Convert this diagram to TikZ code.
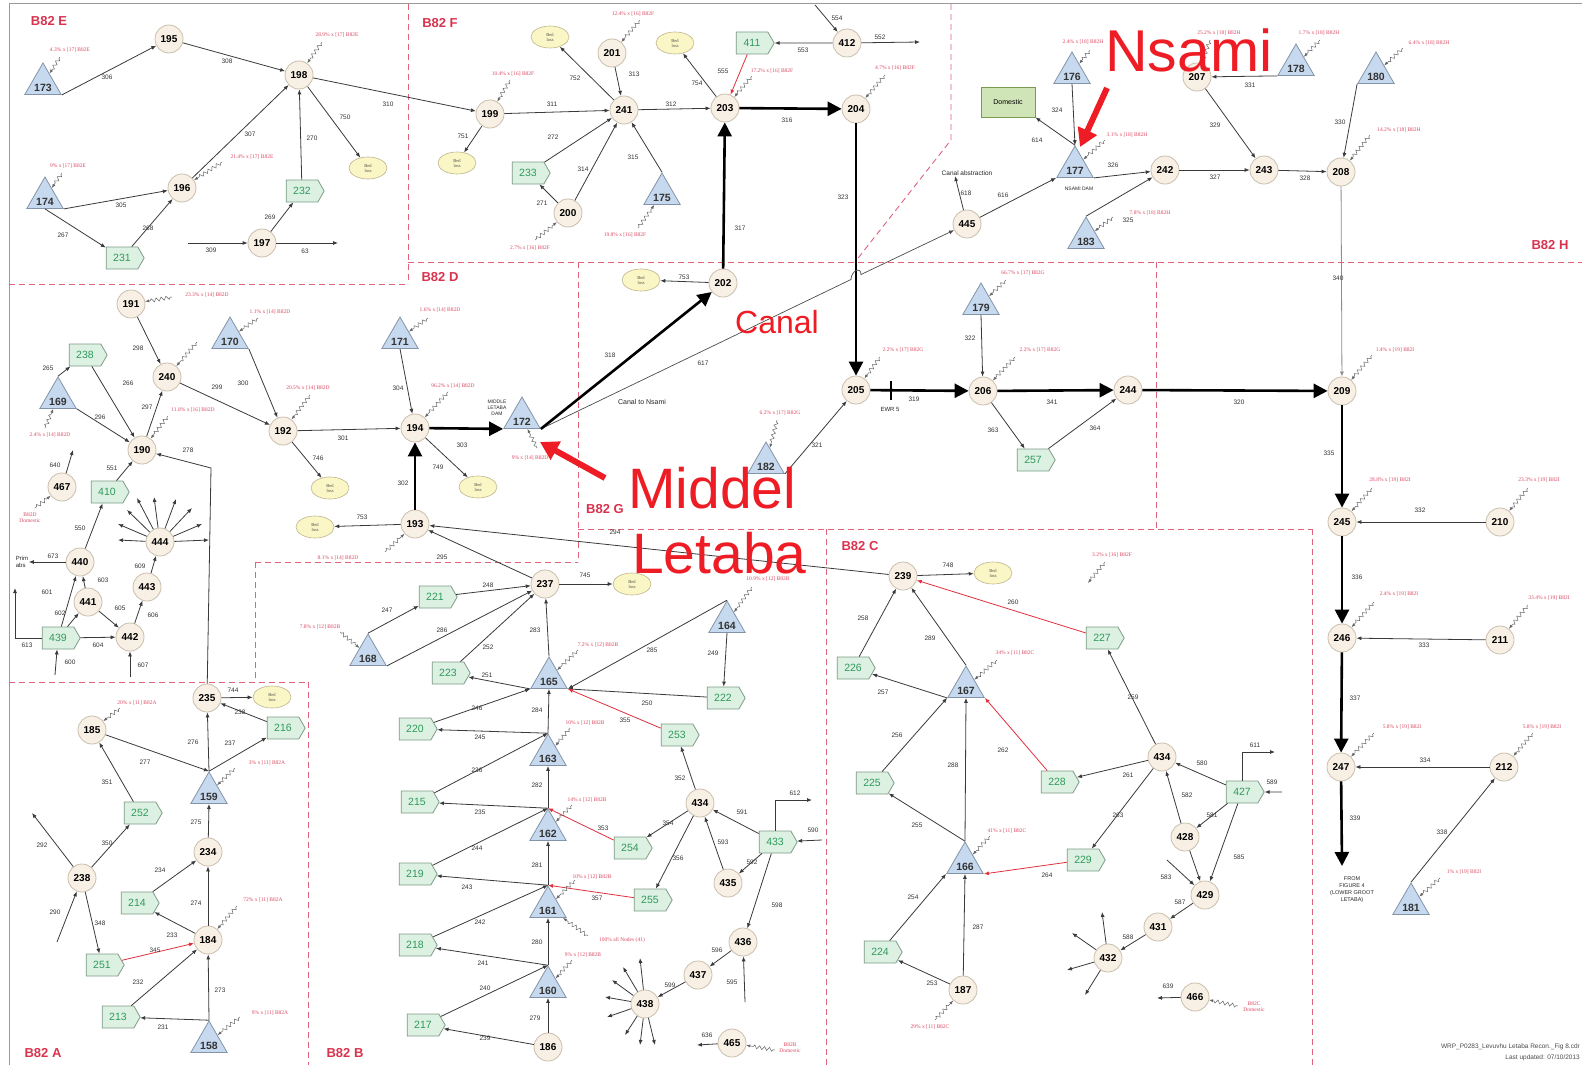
\documentclass[tikz,border=0pt]{standalone}
\usepackage{fontspec}
\setmainfont{Liberation Sans}
\newfontfamily\serifpl{Liberation Serif}
\usetikzlibrary{arrows.meta,shapes.geometric,shapes.symbols,decorations.pathmorphing}
\definecolor{cfill}{HTML}{F8F0E4}
\definecolor{cline}{HTML}{C9BFAE}
\definecolor{gfill}{HTML}{DDF1E3}
\definecolor{gline}{HTML}{7D9A86}
\definecolor{gtext}{HTML}{2F9A5C}
\definecolor{tfill}{HTML}{C6D9EF}
\definecolor{tline}{HTML}{8394A8}
\definecolor{bfill}{HTML}{FBF6C6}
\definecolor{bline}{HTML}{BDB68E}
\definecolor{rgn}{HTML}{E0637B}
\definecolor{rgntxt}{HTML}{D9344F}
\definecolor{pct}{HTML}{DB4A63}
\definecolor{ecol}{HTML}{3A3A3A}
\definecolor{bigred}{HTML}{EE1C24}
\definecolor{redline}{HTML}{E0303C}
\definecolor{domfill}{HTML}{CFE5B8}
\definecolor{domline}{HTML}{7A9A50}
\newcommand\myc[3]{\node[cn] (n#1) at (#2,#3) {#1};}
\newcommand\myg[3]{\node[gn] (g#1) at (#2,#3) {#1};}
\newcommand\myt[3]{\node[tn] (t#1) at (#2,#3) {}; \node[tnum] (t#1n) at ([yshift=7pt]t#1.south) {#1};}
\newcommand\myb[3]{\node[bl] (#1) at (#2,#3) {Bed\\loss};}
\newcommand\myl[3]{\node[el] (l#3x#1) at (#1,#2) {#3};}
\newcommand\myp[3]{\node[pl] (p#1x#2) at (#1,#2) {#3};}
\newcommand\mys[3]{\coordinate (q#1x#2) at (#1,#2); \draw[squig] (q#1x#2) -- (#3);}
\begin{document}
\begin{tikzpicture}[x=1pt,y=-1pt,
 cn/.style={circle, draw=cline, fill=cfill, line width=0.8pt, minimum size=28pt, inner sep=0pt, font=\fontsize{10}{10}\selectfont\bfseries},
 gn/.style={signal, signal to=east, signal pointer angle=120, draw=gline, fill=gfill, line width=0.8pt, minimum width=38pt, minimum height=22pt, inner sep=1pt, text=gtext, font=\fontsize{10.5}{10.5}\selectfont},
 tn/.style={regular polygon, regular polygon sides=3, draw=tline, fill=tfill, line width=0.8pt, minimum size=42pt, inner sep=0pt},
 tnum/.style={inner sep=0pt, font=\fontsize{10.5}{10.5}\selectfont\bfseries, text=black!80},
 bl/.style={ellipse, draw=bline, fill=bfill, line width=0.6pt, minimum width=38pt, minimum height=22pt, inner sep=0pt, align=center, font=\serifpl\fontsize{4.5}{5}\selectfont, text=black!70},
 el/.style={inner sep=0.5pt, font=\fontsize{6.5}{6.5}\selectfont, text=black!80},
 pl/.style={inner sep=0pt, align=center, font=\serifpl\fontsize{5.5}{6}\selectfont, text=pct},
 ed/.style={draw=ecol, line width=0.8pt, -{Latex[length=5pt,width=4pt]}},
 thk/.style={draw=black, line width=2.6pt, -{Triangle[length=14pt,width=14pt]}},
 rdl/.style={draw=redline, line width=0.8pt, -{Latex[length=5pt,width=4pt]}},
 squig/.style={draw=black!60, line width=0.5pt, decorate, decoration={zigzag, segment length=5pt, amplitude=1.8pt, pre length=2pt, post length=5pt}, -{Latex[length=4pt,width=3pt]}},
 rg/.style={draw=rgn, line width=0.9pt, dash pattern=on 6pt off 4pt},
 rl/.style={text=rgntxt, font=\fontsize{13}{13}\selectfont\bfseries, inner sep=0pt},
 bigtxt/.style={text=bigred, inner sep=0pt, anchor=base west},
 bigarrow/.style={draw=bigred, line width=6pt, -{Triangle[length=18pt,width=20pt]}},
 small/.style={inner sep=0.5pt, text=black!85, align=center},
]
\useasboundingbox (0,0) rectangle (1582,1065);
\fill[white] (0,0) rectangle (1582,1065);
\draw[draw=black!40, line width=1pt] (9,1065) -- (9,4) -- (1582,4);

% region boundaries
\draw[rg] (9,284) -- (408,284);
\draw[rg] (408,4) -- (408,284);
\draw[rg] (408,262) -- (1582,262);
\draw[rg] (578,262) -- (578,562);
\draw[rg] (255,562) -- (578,562);
\draw[rg] (255,562) -- (255,682);
\draw[rg] (9,682) -- (308,682);
\draw[rg] (308,682) -- (308,1065);
\draw[rg] (578,529) -- (1312,529);
\draw[rg] (826,529) -- (826,1065);
\draw[rg] (1312,529) -- (1312,1065);
\draw[rg] (1156,262) -- (1156,529);
\draw[rg] (951,4) -- (951,140) -- (855,262);

\node[rl] (rE) at (49,21) {B82 E};
\node[rl] (rF) at (440,23) {B82 F};
\node[rl] (rD) at (440,277) {B82 D};
\node[rl] (rG) at (605,509) {B82 G};
\node[rl] (rC) at (860,546) {B82 C};
\node[rl] (rH) at (1550,245) {B82 H};
\node[rl] (rA) at (43,1053) {B82 A};
\node[rl] (rB) at (345,1053) {B82 B};

% circles
\myc{195}{169}{39} \myc{198}{299}{75} \myc{196}{182}{188} \myc{197}{262}{243}
\myc{199}{490}{114} \myc{241}{624}{110} \myc{201}{612}{53} \myc{203}{725}{108}
\myc{200}{568}{213} \myc{202}{723}{283} \myc{412}{847}{43} \myc{204}{856}{109}
\myc{445}{967}{224} \myc{242}{1165}{170} \myc{207}{1197}{77} \myc{243}{1264}{170}
\myc{208}{1341}{172} \myc{191}{131}{304} \myc{240}{167}{377} \myc{190}{142}{450}
\myc{192}{283}{431} \myc{467}{62}{487} \myc{444}{160}{542} \myc{440}{80}{562}
\myc{441}{88}{602} \myc{443}{147}{587} \myc{442}{130}{637} \myc{235}{207}{698}
\myc{194}{415}{428} \myc{193}{415}{524} \myc{237}{545}{584} \myc{205}{856}{390}
\myc{206}{983}{391} \myc{244}{1128}{390} \myc{239}{903}{576} \myc{209}{1342}{391}
\myc{245}{1342}{522} \myc{210}{1500}{522} \myc{246}{1342}{638} \myc{211}{1500}{640}
\myc{247}{1341}{767} \myc{212}{1504}{767} \myc{185}{92}{730} \myc{234}{208}{852}
\myc{238}{82}{878} \myc{184}{208}{940}
\node[cn] (b434) at (700,803) {434};
\myc{435}{728}{883} \myc{436}{743}{942} \myc{437}{698}{975} \myc{438}{645}{1004}
\myc{186}{548}{1047} \myc{465}{732}{1043}
\node[cn] (c434) at (1162,757) {434};
\myc{428}{1185}{837} \myc{429}{1205}{895} \myc{431}{1158}{927} \myc{432}{1108}{958}
\myc{466}{1195}{997} \myc{187}{963}{990}

% green
\myg{232}{302}{191} \myg{231}{122}{258} \myg{233}{528}{173} \myg{411}{752}{43}
\myg{238}{85}{355} \myg{410}{107}{492} \myg{439}{58}{638} \myg{216}{283}{728}
\myg{252}{140}{813} \myg{214}{137}{903} \myg{251}{102}{965} \myg{213}{118}{1017}
\myg{221}{435}{597} \myg{223}{448}{673} \myg{222}{723}{698} \myg{220}{415}{729}
\myg{215}{417}{802} \myg{219}{415}{874} \myg{218}{415}{945} \myg{217}{423}{1025}
\myg{253}{677}{735} \myg{254}{630}{848} \myg{255}{650}{900} \myg{433}{775}{842}
\myg{257}{1033}{460} \myg{227}{1102}{638} \myg{226}{853}{668} \myg{225}{872}{783}
\myg{228}{1057}{782} \myg{229}{1083}{860} \myg{224}{880}{952} \myg{427}{1242}{792}

% triangles
\myt{173}{43}{84} \myt{174}{45}{198} \myt{175}{662}{194} \myt{176}{1072}{73}
\myt{177}{1075}{167} \myt{178}{1296}{65} \myt{180}{1376}{73} \myt{183}{1086}{238}
\myt{179}{981}{304} \myt{169}{58}{398} \myt{170}{230}{338} \myt{171}{400}{338}
\myt{172}{522}{418} \myt{182}{766}{463} \myt{168}{368}{655} \myt{164}{727}{622}
\myt{165}{549}{678} \myt{163}{548}{755} \myt{162}{548}{830} \myt{161}{548}{907}
\myt{160}{548}{987} \myt{159}{209}{793} \myt{158}{209}{1042} \myt{167}{966}{687}
\myt{166}{965}{863} \myt{181}{1411}{904}

% bed loss
\myb{bl1}{368}{168} \myb{bl2}{550}{37} \myb{bl3}{457}{163} \myb{bl4}{675}{43}
\myb{bl5}{641}{280} \myb{bl6}{330}{488} \myb{bl7}{315}{527} \myb{bl8}{478}{487}
\myb{bl9}{632}{584} \myb{bl10}{272}{697} \myb{bl11}{993}{573}

% other texts
\node[draw=domline, fill=domfill, line width=0.8pt, minimum width=54pt, minimum height=30pt, font=\fontsize{7}{7}\selectfont] (dom) at (1008,102) {Domestic};
\node[small, font=\fontsize{6.5}{6.5}\selectfont] (canalabs) at (967,173) {Canal abstraction};
\node[small, font=\fontsize{5}{5}\selectfont] (nsamidam) at (1079,189) {NSAMI DAM};
\node[small, font=\fontsize{5}{6}\selectfont] (mldam) at (497,408) {MIDDLE\\LETABA\\DAM};
\node[small, font=\fontsize{7}{7}\selectfont] (canaltxt) at (642,402) {Canal to Nsami};
\node[small, align=left, font=\fontsize{6}{7}\selectfont] (primabs) at (22,562) {Prim\\abs};
\node[small, font=\fontsize{6}{6}\selectfont] (ewr) at (890,409) {EWR 5};
\node[small, font=\fontsize{5.5}{7}\selectfont] (fromfig) at (1352,890) {FROM\\FIGURE 4\\(LOWER GROOT\\LETABA)};

% free coordinates
\coordinate (k309) at (188,243); \coordinate (k63) at (338,243);
\coordinate (k554) at (815,5); \coordinate (k552) at (920,42);
\coordinate (k640) at (73,450); \coordinate (k613a) at (15,638); \coordinate (k613b) at (15,588);
\coordinate (k600) at (55,675); \coordinate (k607) at (130,677); \coordinate (k278) at (211,468);
\coordinate (k292) at (32,813); \coordinate (k290) at (57,942);
\coordinate (k595) at (745,1002); \coordinate (k636) at (697,1045);
\coordinate (k612) at (812,800); \coordinate (k590) at (822,840);
\coordinate (k639) at (1157,998); \coordinate (k583) at (1167,860);
\coordinate (k611) at (1275,752); \coordinate (k589) at (1282,792);
\coordinate (k339) at (1342,866);
\coordinate (hopA) at (851,279.5); \coordinate (hopB) at (861,274.5);

% E
\draw[ed] (t173.corner 3) -- (n195); \myl{107}{77}{306}
\draw[ed] (n195) -- (n198); \myl{227}{61}{308}
\draw[ed] (n198) -- (n199); \myl{388}{104}{310}
\draw[ed] (n198) -- (bl1); \myl{345}{117}{750}
\draw[ed] (n196) -- (n198); \myl{250}{134}{307}
\draw[ed] (g232) -- (n198); \myl{312}{138}{270}
\draw[ed] (t174.corner 3) -- (n196); \myl{121}{205}{305}
\draw[ed] (t174.south) -- (g231); \myl{63}{235}{267}
\draw[ed] (g231) -- (n196); \myl{148}{228}{268}
\draw[ed] (k309) -- (n197); \myl{211}{250}{309}
\draw[ed] (n197) -- (k63); \myl{305}{251}{63}
\draw[ed] (n197) -- (g232); \myl{270}{217}{269}

% F
\draw[ed] (n199) -- (n241); \myl{552}{104}{311}
\draw[ed] (n199) -- (bl3); \myl{463}{136}{751}
\draw[ed] (n241) -- (bl2); \myl{575}{78}{752}
\draw[ed] (n201) -- (n241); \myl{634}{74}{313}
\draw[ed] (n241) -- (n203); \myl{671}{104}{312}
\draw[ed] (n203) -- (bl4); \myl{697}{83}{754}
\draw[rdl] (g411) -- (n203); \myl{723}{71}{555}
\draw[ed] (g233) -- (n241); \myl{553}{137}{272}
\draw[ed] (n200) -- (g233); \myl{542}{203}{271}
\draw[ed] (n200) -- (n241); \myl{583}{169}{314}
\draw[ed] (t175.corner 1) -- (n241); \myl{633}{157}{315}
\draw[thk] (n202) -- (n203); \myl{740}{228}{317}
\draw[ed] (n202) -- (bl5); \myl{684}{277}{753}
\draw[thk] (n203) -- (n204); \myl{787}{120}{316}
\draw[ed] (k554) -- (n412); \myl{837}{18}{554}
\draw[ed] (n412) -- (g411); \myl{803}{50}{553}
\draw[ed] (n412) -- (k552); \myl{880}{37}{552}

% H
\draw[thk] (n204) -- (n205); \myl{843}{197}{323}
\draw[ed] (t176.south) -- (t177.corner 1); \myl{1057}{110}{324}
\draw[ed] (t177.corner 1) -- (dom.south east); \myl{1037}{140}{614}
\draw[ed] (t177.corner 3) -- (n242); \myl{1113}{165}{326}
\draw[ed] (n445) -- ([xshift=14pt]canalabs.south west); \myl{966}{193}{618}
\draw[ed] (n445) -- (t177.corner 2); \myl{1003}{195}{616}
\draw[ed] (t183.corner 1) -- (n242); \myl{1128}{220}{325}
\draw[ed] (t178.corner 2) -- (n207); \myl{1250}{85}{331}
\draw[ed] (n207) -- (n243); \myl{1215}{125}{329}
\draw[ed] (n242) -- (n243); \myl{1215}{177}{327}
\draw[ed] (n243) -- (n208); \myl{1305}{178}{328}
\draw[ed] (t180.corner 2) -- (n208); \myl{1340}{122}{330}
\draw[ed, draw=black!45] (n208) -- (n209); \myl{1338}{278}{340}
\draw[draw=black!70, line width=0.7pt, -{Latex[length=5pt,width=4pt]}] (t172.corner 3) -- (hopA) .. controls (851,271) and (861,266) .. (hopB) -- (n445); \myl{703}{363}{617}
\draw[thk] (t172.corner 3) -- (n202); \myl{610}{355}{318}

% D
\draw[ed] (n191) -- (n240); \myl{138}{348}{298}
\draw[ed] (t169.corner 1) -- (g238); \myl{48}{368}{265}
\draw[ed] (g238) -- (n190); \myl{128}{383}{266}
\draw[ed] (t169.corner 3) -- (n190); \myl{100}{417}{296}
\draw[ed] (n190) -- (n240); \myl{147}{407}{297}
\draw[ed] (n240) -- (n192); \myl{217}{387}{299}
\draw[ed] (t170.corner 3) -- (n192); \myl{243}{383}{300}
\draw[ed] (n192) -- (n194); \myl{343}{438}{301}
\draw[ed] (n192) -- (bl6); \myl{318}{458}{746}
\draw[ed] (n193) -- (bl7); \myl{362}{517}{753}
\draw[ed] (n235) -- (k278) -- (n190); \myl{188}{450}{278}
\draw[ed] (g410) -- (n190); \myl{112}{468}{551}
\draw[ed] (n467) -- (k640); \myl{55}{465}{640}
\draw[ed] (n440) -- (g410); \myl{80}{528}{550}
\draw[ed] (n440) -- (primabs); \myl{53}{556}{673}
\draw[ed] (g439) -- (n440); \myl{47}{592}{601}
\draw[ed] (n441) -- (n440); \myl{103}{580}{603}
\draw[ed] (g439) -- (n441); \myl{60}{613}{602}
\draw[ed] (n441) -- (n442); \myl{120}{608}{605}
\draw[ed] (g439) -- (n442); \myl{98}{645}{604}
\draw[ed] (n442) -- (n443); \myl{153}{615}{606}
\draw[ed] (n443) -- (n444); \myl{140}{566}{609}
\draw[ed] (g439.west) -- (k613a) -- (k613b); \myl{27}{645}{613}
\draw[ed] (k600) -- (g439); \myl{70}{662}{600}
\draw[ed] (k607) -- (n442); \myl{143}{665}{607}
\draw[ed] (n235) -- (bl10); \myl{233}{690}{744}
\draw[ed] (t171.south) -- (n194); \myl{398}{388}{304}
\draw[thk] (n194) -- (t172.corner 2); \myl{462}{445}{303}
\draw[thk] (n193) -- (n194); \myl{403}{483}{302}
\draw[ed] (n194) -- (bl8); \myl{438}{467}{749}
\draw[ed] (n237) -- (n193); \myl{442}{557}{295}
\draw[ed] (n239) -- (n193); \myl{615}{532}{294}
\draw[ed] (n237) -- (bl9); \myl{585}{575}{745}
\foreach \dx/\dy [count=\i] in {-33/-32,-23/-44,-6/-45,16/-43,32/-34,42/-18,49/-2,-42/-2,-42/-18}
  {\coordinate (f444-\i) at ([shift={(\dx,\dy)}]n444.center); \draw[ed] (n444) -- (f444-\i);}

% A
\draw[ed] (g216) -- (n235); \myl{240}{712}{238}
\draw[ed] (t159.corner 1) -- (n235); \myl{193}{742}{276}
\draw[ed] (t159.corner 1) -- (g216); \myl{230}{743}{237}
\draw[ed] (n185) -- (t159.corner 1); \myl{145}{762}{277}
\draw[ed] (g252) -- (n185); \myl{107}{782}{351}
\draw[ed] (n238) -- (g252); \myl{107}{843}{350}
\draw[ed] (n238) -- (k292); \myl{42}{845}{292}
\draw[ed] (k290) -- (n238); \myl{55}{912}{290}
\draw[ed] (n238) -- (g251); \myl{100}{923}{348}
\draw[rdl] (g251) -- (n184); \myl{155}{950}{345}
\draw[ed] (g213) -- (n184); \myl{138}{982}{232}
\draw[ed] (n184) -- (g214); \myl{172}{935}{233}
\draw[ed] (g214) -- (n234); \myl{160}{870}{234}
\draw[ed] (n184) -- (n234); \myl{196}{903}{274}
\draw[ed] (n234) -- (t159.south); \myl{196}{822}{275}
\draw[ed] (t158.corner 1) -- (n184); \myl{220}{990}{273}
\draw[ed] (t158.corner 1) -- (g213); \myl{163}{1027}{231}

% B
\draw[ed] (g221) -- (n237); \myl{488}{585}{248}
\draw[ed] (t168.corner 1) -- (g221); \myl{387}{610}{247}
\draw[ed] (t168.corner 3) -- (n237); \myl{442}{630}{286}
\draw[ed] (g223) -- (n237); \myl{488}{647}{252}
\draw[ed] (t165.corner 1) -- (n237); \myl{535}{630}{283}
\draw[ed] (t165.corner 2) -- (g223); \myl{487}{675}{251}
\draw[ed] (t164.corner 1) -- (t165.corner 3); \myl{652}{650}{285}
\draw[ed] (g222) -- (t165.corner 3); \myl{647}{703}{250}
\draw[ed] (t164.south) -- (g222); \myl{713}{653}{249}
\draw[rdl] (g253) -- (t165.corner 3); \myl{625}{720}{355}
\draw[ed] (t163.corner 1) -- (t165.south); \myl{537}{710}{284}
\draw[ed] (g220) -- (t165.corner 2); \myl{477}{708}{246}
\draw[ed] (t163.corner 1) -- (g220); \myl{480}{737}{245}
\draw[ed] (g215) -- (t163.corner 1); \myl{477}{770}{236}
\draw[ed] (t162.corner 1) -- (g215); \myl{480}{812}{235}
\draw[ed] (t162.corner 1) -- (t163.south); \myl{537}{785}{282}
\draw[ed] (g219) -- (t162.corner 1); \myl{477}{848}{244}
\draw[ed] (t161.corner 1) -- (g219); \myl{467}{887}{243}
\draw[ed] (t161.corner 1) -- (t162.south); \myl{537}{865}{281}
\draw[rdl] (g254) -- (t162.corner 1); \myl{603}{828}{353}
\draw[rdl] (g255) -- (t161.corner 1); \myl{597}{898}{357}
\draw[ed] (g218) -- (t161.corner 1); \myl{480}{922}{242}
\draw[ed] (t160.corner 1) -- (g218); \myl{483}{963}{241}
\draw[ed] (t160.corner 1) -- (t161.south); \myl{537}{942}{280}
\draw[ed] (g217) -- (t160.corner 1); \myl{485}{988}{240}
\draw[ed] (n186) -- (g217); \myl{485}{1038}{239}
\draw[ed] (n186) -- (t160.south); \myl{535}{1018}{279}
\draw[ed] (b434) -- (g253); \myl{680}{778}{352}
\draw[ed] (b434) -- (g254); \myl{668}{823}{354}
\draw[ed] (b434) -- (g255); \myl{678}{858}{356}
\draw[ed] (g433) -- (b434); \myl{742}{812}{591}
\draw[ed] (n435) -- (b434); \myl{723}{842}{593}
\draw[ed] (g433) -- (n435); \myl{752}{862}{592}
\draw[ed] (g433) -- (n436); \myl{777}{905}{598}
\draw[ed] (n436) -- (n437); \myl{717}{950}{596}
\draw[ed] (k595) -- (n436); \myl{732}{982}{595}
\draw[ed] (n437) -- (n438); \myl{670}{985}{599}
\draw[ed] (n465) -- (k636); \myl{707}{1035}{636}
\draw[ed] (g433.north) |- (k612); \myl{795}{793}{612}
\draw[ed] (k590) -- (g433); \myl{813}{830}{590}
\foreach \dx/\dy [count=\i] in {-5/-46,-22/-37,-33/-24,-40/-7,-38/13,-20/31,-5/41,10/41}
  {\coordinate (f438-\i) at ([shift={(\dx,\dy)}]n438.center); \draw[ed] (n438) -- (f438-\i);}

% G
\draw[thk] (n205) -- (n206); \myl{914}{399}{319}
\draw[line width=1.4pt] (891,381) -- (891,400);
\draw[thk] (n206) -- (n244); \myl{1052}{402}{341}
\draw[thk] (n244) -- (n209); \myl{1239}{402}{320}
\draw[ed] (n206) -- (g257); \myl{993}{430}{363}
\draw[ed] (g257) -- (n244); \myl{1095}{428}{364}
\draw[ed] (t182.corner 3) -- (n205); \myl{817}{445}{321}
\draw[ed] (t179.south) -- (n206); \myl{970}{338}{322}

% C
\draw[ed] (n239) -- (bl11); \myl{948}{565}{748}
\draw[rdl] (g227) -- (n239); \myl{1013}{602}{260}
\draw[ed] (g226) -- (n239); \myl{863}{618}{258}
\draw[ed] (t167.corner 1) -- (n239); \myl{930}{638}{289}
\draw[ed] (t167.corner 2) -- (g226); \myl{883}{692}{257}
\draw[ed] (c434) -- (g227); \myl{1133}{697}{259}
\draw[ed] (g225) -- (t167.corner 2); \myl{897}{735}{256}
\draw[ed] (t166.corner 1) -- (t167.south); \myl{953}{765}{288}
\draw[rdl] (g228) -- (t167.corner 3); \myl{1003}{750}{262}
\draw[ed] (c434) -- (g228); \myl{1128}{775}{261}
\draw[ed] (t166.corner 1) -- (g225); \myl{917}{825}{255}
\draw[ed] (c434) -- (g229); \myl{1118}{815}{263}
\draw[rdl] (g229) -- (t166.corner 3); \myl{1047}{875}{264}
\draw[ed] (g224) -- (t166.corner 2); \myl{913}{897}{254}
\draw[ed] (n187) -- (t166.south); \myl{978}{927}{287}
\draw[ed] (n187) -- (g224); \myl{932}{983}{253}
\draw[ed] (n431) -- (n432); \myl{1128}{937}{588}
\draw[ed] (n429) -- (n431); \myl{1180}{902}{587}
\draw[ed] (n466) -- (k639); \myl{1168}{986}{639}
\draw[ed] (k583) -- (n429); \myl{1166}{877}{583}
\draw[ed] (g427) -- (c434); \myl{1202}{763}{580}
\draw[ed] (g427) -- (n428); \myl{1212}{815}{581}
\draw[ed] (n428) -- (c434); \myl{1187}{795}{582}
\draw[ed] (g427) -- (n429); \myl{1239}{857}{585}
\draw[ed] (n428) -- (n429);
\draw[ed] (g427.north) |- (k611); \myl{1255}{745}{611}
\draw[ed] (k589) -- (g427); \myl{1272}{782}{589}
\foreach \dx/\dy [count=\i] in {-6/-46,-36/-25,-41/12,-23/37}
  {\coordinate (f432-\i) at ([shift={(\dx,\dy)}]n432.center); \draw[ed] (n432) -- (f432-\i);}

% I
\draw[thk] (n209) -- (n245); \myl{1329}{453}{335}
\draw[ed] (n210) -- (n245); \myl{1420}{510}{332}
\draw[thk] (n245) -- (n246); \myl{1357}{577}{336}
\draw[ed] (n211) -- (n246); \myl{1424}{645}{333}
\draw[thk] (n246) -- (n247); \myl{1355}{698}{337}
\draw[ed] (n212) -- (n247); \myl{1425}{760}{334}
\draw[thk] (n247) -- (k339); \myl{1355}{818}{339}
\draw[ed] (t181.corner 1) -- (n212); \myl{1442}{832}{338}

% percentage labels and squiggles
\myp{70}{50}{4.3\% x [17] B82E} \mys{60}{57}{t173}
\myp{337}{35}{28.9\% x [17] B82E} \mys{322}{42}{n198}
\myp{68}{166}{9\% x [17] B82E} \mys{62}{173}{t174}
\myp{252}{157}{21.4\% x [17] B82E} \mys{222}{162}{n196}
\myp{633}{14}{12.4\% x [16] B82F} \mys{640}{20}{n201}
\myp{513}{74}{10.4\% x [16] B82F} \mys{510}{80}{n199}
\myp{772}{71}{17.2\% x [16] B82F} \mys{752}{76}{n203}
\myp{530}{248}{2.7\% x [16] B82F} \mys{535}{240}{n200}
\myp{625}{235}{19.8\% x [16] B82F} \mys{638}{228}{t175}
\myp{895}{68}{4.7\% x [16] B82F} \mys{885}{75}{n204}
\myp{1083}{42}{2.4\% x [18] B82H} \mys{1090}{50}{t176}
\myp{1127}{135}{3.1\% x [18] B82H} \mys{1105}{140}{t177}
\myp{1150}{213}{7.8\% x [18] B82H} \mys{1113}{217}{t183}
\myp{1219}{33}{25.2\% x [18] B82H} \mys{1210}{40}{n207}
\myp{1319}{33}{1.7\% x [18] B82H} \mys{1320}{40}{t178}
\myp{1429}{43}{6.4\% x [18] B82H} \mys{1403}{48}{t180}
\myp{1399}{130}{14.2\% x [18] B82H} \mys{1370}{135}{n208}
\myp{1395}{350}{1.4\% x [19] B82I} \mys{1372}{355}{n209}
\myp{1023}{273}{66.7\% x [17] B82G} \mys{1006}{280}{t179}
\myp{903}{350}{2.2\% x [17] B82G} \mys{880}{357}{n205}
\myp{1040}{350}{2.2\% x [17] B82G} \mys{1015}{357}{n206}
\myp{780}{413}{6.2\% x [17] B82G} \mys{777}{420}{t182}
\myp{207}{295}{23.3\% x [14] B82D} \mys{172}{297}{n191}
\myp{270}{312}{1.1\% x [14] B82D} \mys{258}{318}{t170}
\myp{440}{310}{1.6\% x [14] B82D} \mys{428}{318}{t171}
\mys{197}{342}{n240}
\myp{50}{435}{2.4\% x [14] B82D} \mys{45}{428}{t169}
\myp{193}{410}{11.8\% x [16] B82D} \mys{168}{416}{n190}
\myp{308}{388}{20.5\% x [14] B82D} \mys{310}{395}{n192}
\myp{453}{386}{96.2\% x [14] B82D} \mys{448}{392}{n194}
\myp{530}{458}{9\% x [14] B82D} \mys{537}{448}{t172}
\myp{338}{558}{8.1\% x [14] B82D} \mys{385}{552}{n193}
\myp{30}{518}{B82D\\Domestic} \mys{35}{508}{n467}
\myp{137}{703}{20\% x [11] B82A} \mys{120}{708}{n185}
\myp{267}{763}{3\% x [11] B82A} \mys{235}{768}{t159}
\myp{263}{900}{72\% x [11] B82A} \mys{237}{906}{n184}
\myp{270}{1013}{9\% x [11] B82A} \mys{240}{1017}{t158}
\myp{320}{627}{7.8\% x [12] B82B} \mys{340}{632}{t168}
\myp{598}{645}{7.2\% x [12] B82B} \mys{578}{650}{t165}
\myp{768}{579}{10.9\% x [12] B82B} \mys{752}{587}{t164}
\myp{585}{723}{10\% x [12] B82B} \mys{570}{728}{t163}
\myp{587}{800}{14\% x [12] B82B} \mys{572}{805}{t162}
\myp{592}{877}{10\% x [12] B82B} \mys{575}{880}{t161}
\myp{622}{940}{100\% all Nodes (41)} \mys{588}{936}{t161}
\myp{583}{955}{9\% x [12] B82B} \mys{572}{960}{t160}
\myp{790}{1048}{B82B\\Domestic} \mys{775}{1050}{n465}
\myp{1112}{555}{3.2\% x [16] B82F} \coordinate (q1105x562) at (1105,562); \coordinate (q3end) at (1088,583); \draw[squig] (q1105x562) -- (q3end);
\myp{1015}{653}{34\% x [11] B82C} \mys{997}{660}{t167}
\myp{1007}{831}{41\% x [11] B82C} \mys{990}{836}{t166}
\myp{930}{1027}{29\% x [11] B82C} \mys{935}{1020}{n187}
\myp{1254}{1007}{B82C\\Domestic} \mys{1238}{1006}{n466}
\myp{1390}{480}{28.8\% x [19] B82I} \mys{1372}{488}{n245}
\myp{1539}{480}{23.3\% x [19] B82I} \mys{1528}{488}{n210}
\myp{1399}{594}{2.4\% x [19] B82I} \mys{1374}{602}{n246}
\myp{1549}{598}{33.4\% x [19] B82I} \mys{1528}{605}{n211}
\myp{1402}{727}{5.8\% x [19] B82I} \mys{1374}{733}{n247}
\myp{1542}{727}{5.8\% x [19] B82I} \mys{1533}{733}{n212}
\myp{1464}{872}{1\% x [19] B82I} \mys{1440}{878}{t181}

% footer
\node[anchor=east, inner sep=0pt, text=black!70, font=\fontsize{6.5}{6.5}\selectfont] (foot1) at (1580,1047) {WRP\_P0283\_Levuvhu Letaba Recon.\_Fig 8.cdr};
\node[anchor=east, inner sep=0pt, text=black!70, font=\fontsize{6.5}{6.5}\selectfont] (foot2) at (1580,1058) {Last updated: 07/10/2013};

% big annotations
\coordinate (aN1) at (1107,88); \coordinate (aN2) at (1080,147);
\draw[bigarrow] (aN1) -- (aN2);
\coordinate (aM1) at (605,478); \coordinate (aM2) at (540,442);
\draw[bigarrow] (aM1) -- (aM2);
\node[bigtxt, font=\fontsize{59}{59}\selectfont] (nsami) at (1105,72) {Nsami};
\node[bigtxt, font=\fontsize{32}{32}\selectfont] (canalbig) at (735,333) {Canal};
\node[bigtxt, font=\fontsize{57}{57}\selectfont] (middel) at (628,508) {Middel};
\node[bigtxt, font=\fontsize{57}{57}\selectfont] (letaba) at (632,573) {Letaba};
\end{tikzpicture}
\end{document}
